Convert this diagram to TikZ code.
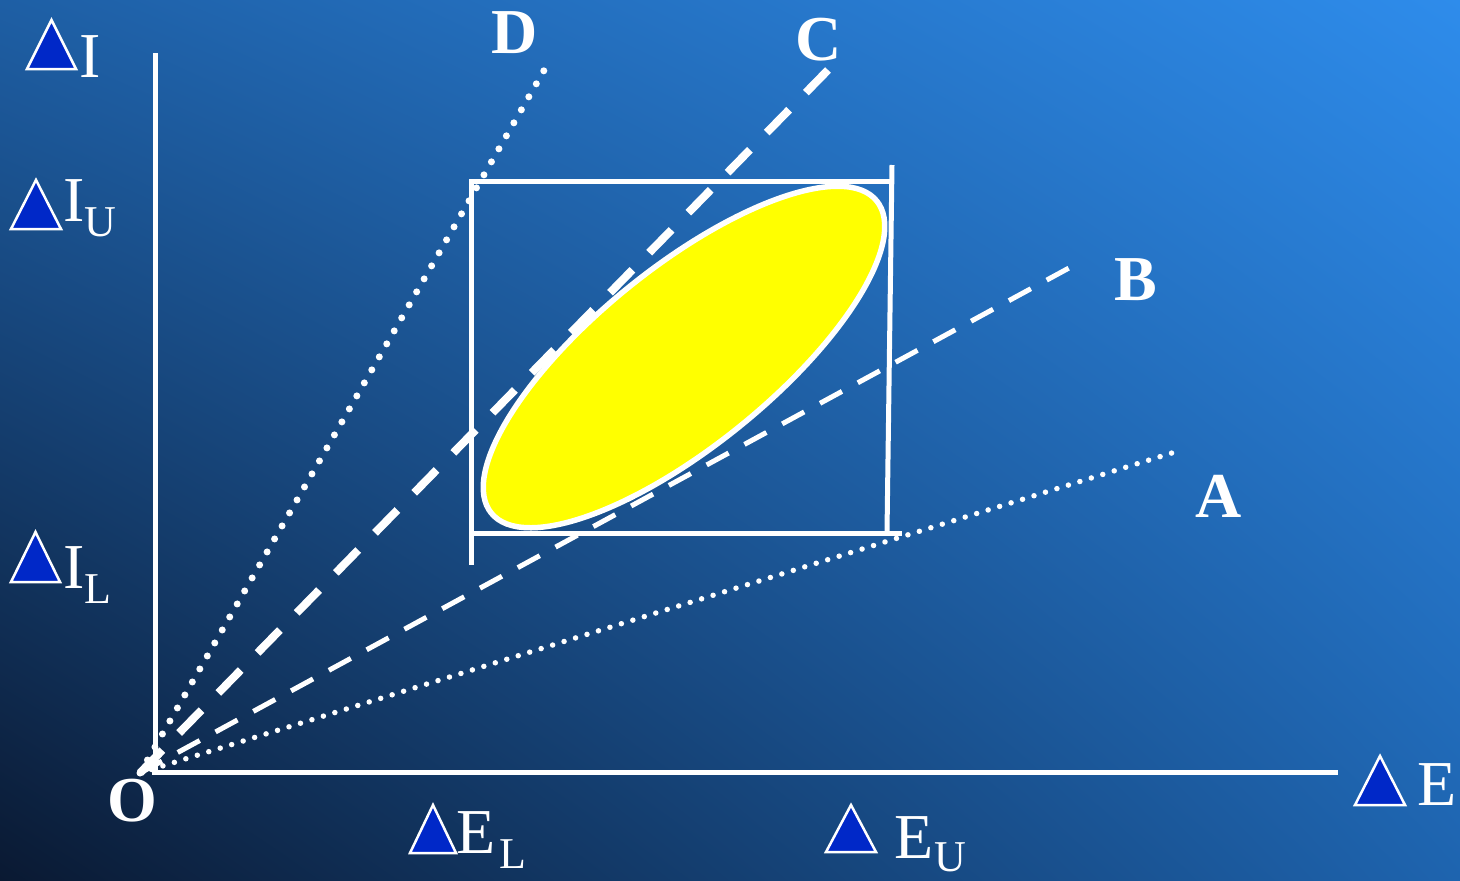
\documentclass[tikz,border=0pt]{standalone}
\usepackage{fontspec}
\setmainfont{Liberation Serif}
\usetikzlibrary{shadings}
\definecolor{bgUL}{RGB}{30,95,165}
\definecolor{bgUR}{RGB}{46,140,235}
\definecolor{bgLL}{RGB}{10,25,50}
\definecolor{bgLR}{RGB}{30,100,175}
\definecolor{triblue}{RGB}{0,40,200}
\definecolor{ellyellow}{RGB}{255,255,0}
\tikzset{
  axisline/.style={draw=white,line width=5pt},
  boxline/.style={draw=white,line width=5pt},
  tri/.style={fill=triblue,draw=white,line width=2.5pt,line join=miter},
  biglabel/.style={text=white,inner sep=0pt,anchor=base west,font=\fontsize{64}{70}\selectfont},
  sublabel/.style={text=white,inner sep=0pt,anchor=base west,font=\fontsize{44}{50}\selectfont},
  boldlabel/.style={text=white,inner sep=0pt,anchor=base west,font=\fontsize{64}{70}\selectfont\bfseries},
  dotbig/.style={draw=white,line width=7pt,line cap=round,dash pattern=on 0pt off 15pt},
  dotsmall/.style={draw=white,line width=5.5pt,line cap=round,dash pattern=on 0pt off 12pt},
  dashthick/.style={draw=white,line width=8pt,dash pattern=on 32pt off 24pt},
  dashthin/.style={draw=white,line width=5pt,dash pattern=on 25pt off 18pt},
}
\begin{document}
\begin{tikzpicture}[x=1pt,y=-1pt]
\useasboundingbox (0,0) rectangle (1460,881);
\shade[upper left=bgUL,upper right=bgUR,lower left=bgLL,lower right=bgLR] (0,0) rectangle (1460,881);

% coordinates
\coordinate (O0) at (140,773);
\coordinate (Dend) at (550,60);
\coordinate (Cend) at (828,70);
\coordinate (Bend) at (1080,262);
\coordinate (Aend) at (1175,452);
\coordinate (Ytop) at (155,53);
\coordinate (Ybot) at (155,775);
\coordinate (Xl) at (152,772);
\coordinate (Xr) at (1338,772);

% axes
\draw[axisline] (Ytop) -- (Ybot);
\draw[axisline] (Xl) -- (Xr);

% rays
\draw[dotbig] (O0) -- (Dend);
\draw[dashthick] (O0) -- (Cend);
\draw[dashthin] (O0) -- (Bend);
\draw[dotsmall] (O0) -- (Aend);

% rectangle
\coordinate (RLt) at (471,180);
\coordinate (RLb) at (471,565);
\coordinate (RTl) at (469,181);
\coordinate (RTr) at (890,181);
\coordinate (RRt) at (892,165);
\coordinate (RRb) at (887,532);
\coordinate (RBl) at (471,533);
\coordinate (RBr) at (902,533);
\draw[boxline] (RLt) -- (RLb);
\draw[boxline] (RTl) -- (RTr);
\draw[boxline] (RRt) -- (RRb);
\draw[boxline] (RBl) -- (RBr);

% ellipse
\coordinate (EC) at (684,357);
\draw[fill=ellyellow,draw=white,line width=5.5pt,rotate around={39:(EC)}] (EC) ellipse [x radius=248, y radius=89];

% ray labels
\node[boldlabel] (labD) at (491,53) {D};
\node[boldlabel] (labC) at (795,60) {C};
\node[boldlabel] (labB) at (1114,300) {B};
\node[boldlabel] (labA) at (1195,517) {A};
\node[boldlabel] (labO) at (107,821) {O};

% axis labels with triangles
\draw[tri] (27,69) -- (76,69) -- (51.5,20) -- cycle;
\node[biglabel] (labI) at (79,77) {I};

\draw[tri] (11,229) -- (61,229) -- (36,180) -- cycle;
\node[biglabel] (labIU) at (63,221) {I};
\node[sublabel] (labIUs) at (84,236) {U};

\draw[tri] (11,582) -- (60,582) -- (35.5,532) -- cycle;
\node[biglabel] (labIL) at (63,588) {I};
\node[sublabel] (labILs) at (84,603) {L};

\draw[tri] (410,853) -- (456,853) -- (433,805) -- cycle;
\node[biglabel] (labEL) at (456,853) {E};
\node[sublabel] (labELs) at (499,868) {L};

\draw[tri] (826,852) -- (876,852) -- (851,805) -- cycle;
\node[biglabel] (labEU) at (894,858) {E};
\node[sublabel] (labEUs) at (934,871) {U};

\draw[tri] (1355,805) -- (1405,805) -- (1380,756) -- cycle;
\node[biglabel] (labE) at (1417,805) {E};
\end{tikzpicture}
\end{document}
